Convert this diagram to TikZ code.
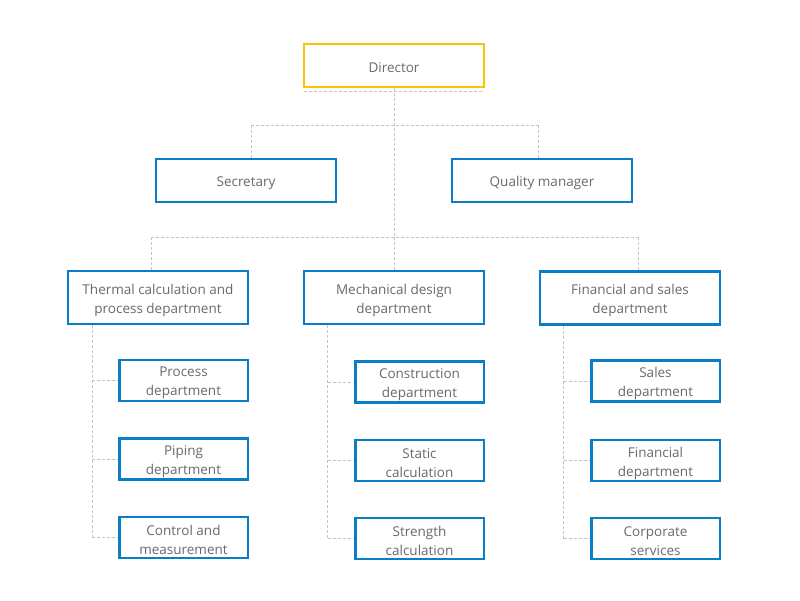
\documentclass[tikz,border=0pt]{standalone}
\usepackage{fontspec}
\setmainfont{Open Sans}
\definecolor{boxblue}{HTML}{0A7DC6}
\definecolor{diryellow}{HTML}{F7C600}
\definecolor{txtgray}{HTML}{6A6A6A}
\definecolor{linegray}{HTML}{C4C4C4}
\begin{document}
\begin{tikzpicture}[x=1pt,y=-1pt,
  every node/.style={inner sep=0pt,outer sep=0pt},
  txtlbl/.style={inner sep=0pt,font=\fontsize{13.5}{19}\selectfont,text=txtgray,align=center,yshift=-2.5pt},
  txt/.style={label={[txtlbl]center:#1}},
  mainbox/.style={draw=boxblue,line width=2.5pt,fill=white,minimum width=180pt,minimum height=43pt},
  deptbox/.style={mainbox,minimum height=53pt},
  subbox/.style={draw=boxblue,line width=2.5pt,fill=white,minimum width=128.5pt,minimum height=41pt},
  dirbox/.style={mainbox,draw=diryellow},
  conn/.style={draw=linegray,line width=0.8pt,dash pattern=on 3pt off 2pt}]
\useasboundingbox[fill=white] (0,0) rectangle (800,600);

\coordinate (j1) at (394,125);
\coordinate (s1) at (251,125);
\coordinate (q1) at (538,125);
\coordinate (j2) at (394,237);
\coordinate (t2) at (151,237);
\coordinate (f2) at (638,237);
\coordinate (lx) at (92,0);
\coordinate (mx) at (327.5,0);
\coordinate (rx) at (563.5,0);

% connectors first (drawn under boxes)
\draw[conn] (394,88) -- (j2);
\draw[conn] (s1) -- (q1);
\draw[conn] (s1) -- (251,158);
\draw[conn] (q1) -- (538,158);
\draw[conn] (t2) -- (f2);
\draw[conn] (t2) -- (151,270);
\draw[conn] (j2) -- (394,270);
\draw[conn] (f2) -- (638,270);

\node[dirbox,txt={Director}] (dir) at (394,65.5) {};
\node[mainbox,txt={Secretary}] (sec) at (246,180.5) {};
\node[mainbox,txt={Quality manager}] (qm) at (542,180.5) {};

\node[deptbox,txt={Thermal calculation and\\process department}] (th) at (158,297.5) {};
\node[deptbox,txt={Mechanical design\\department}] (me) at (394,297.5) {};
\node[deptbox,txt={Financial and sales\\department}] (fi) at (630,298) {};

\node[subbox,txt={Process\\department}] (l1) at (183.5,380.5) {};
\node[subbox,txt={Piping\\department}] (l2) at (183.5,459) {};
\node[subbox,txt={Control and\\measurement}] (l3) at (183.5,537.5) {};

\node[subbox,txt={Construction\\department}] (m1) at (419.5,382) {};
\node[subbox,txt={Static\\calculation}] (m2) at (419.5,460.5) {};
\node[subbox,txt={Strength\\calculation}] (m3) at (419.5,538.5) {};

\node[subbox,txt={Sales\\department}] (r1) at (655.5,381) {};
\node[subbox,txt={Financial\\department}] (r2) at (655.5,460.5) {};
\node[subbox,txt={Corporate\\services}] (r3) at (655.5,538.5) {};

\draw[conn] ([yshift=-4pt]dir.south west) -- ([yshift=-4pt]dir.south east);

\draw[conn] ([yshift=-1.25pt]lx |- th.south) -- (lx |- l3.west);
\draw[conn] (lx |- l1.west) -- ([xshift=-1.25pt]l1.west);
\draw[conn] (lx |- l2.west) -- ([xshift=-1.25pt]l2.west);
\draw[conn] (lx |- l3.west) -- ([xshift=-1.25pt]l3.west);

\draw[conn] ([yshift=-1.25pt]mx |- me.south) -- (mx |- m3.west);
\draw[conn] (mx |- m1.west) -- ([xshift=-1.25pt]m1.west);
\draw[conn] (mx |- m2.west) -- ([xshift=-1.25pt]m2.west);
\draw[conn] (mx |- m3.west) -- ([xshift=-1.25pt]m3.west);

\draw[conn] ([yshift=-1.25pt]rx |- fi.south) -- (rx |- r3.west);
\draw[conn] (rx |- r1.west) -- ([xshift=-1.25pt]r1.west);
\draw[conn] (rx |- r2.west) -- ([xshift=-1.25pt]r2.west);
\draw[conn] (rx |- r3.west) -- ([xshift=-1.25pt]r3.west);
\end{tikzpicture}
\end{document}
